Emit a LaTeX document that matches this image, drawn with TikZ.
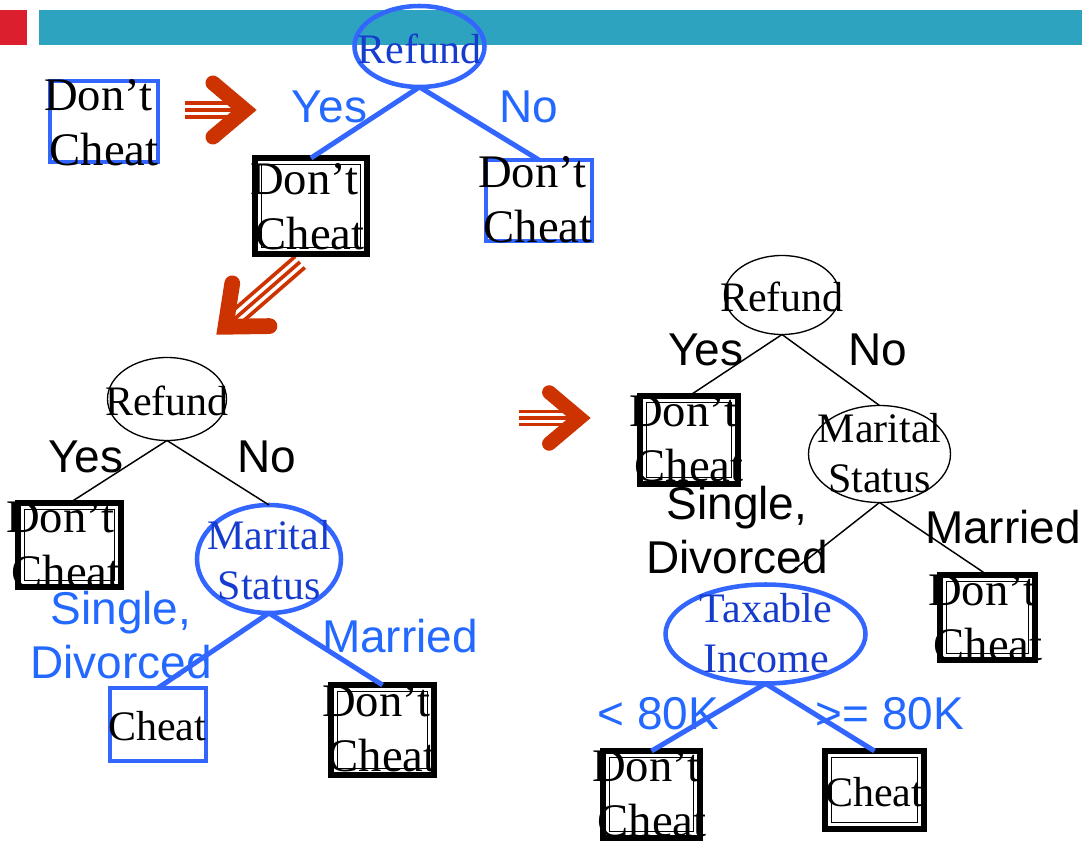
\documentclass[tikz,border=0pt]{standalone}
\usepackage{fontspec}
\setmainfont{Liberation Serif}
\newfontfamily\labelsans{Liberation Sans}
\usetikzlibrary{shapes.geometric,calc}

\definecolor{barteal}{RGB}{46,163,191}
\definecolor{barred}{RGB}{220,31,46}
\definecolor{splitblue}{RGB}{51,102,255}
\definecolor{labelblue}{RGB}{35,105,255}
\definecolor{attrblue}{RGB}{22,60,205}
\definecolor{arrowred}{RGB}{204,51,0}

\tikzset{
  every node/.style={inner sep=0pt, outer sep=0pt},
  attrplain/.style={draw, ellipse, line width=1pt},
  attrsel/.style={draw=splitblue, ellipse, line width=3.4pt},
  attrtext/.style={font=\fontsize{31.5}{38}\selectfont, align=center},
  bluebox/.style={draw=splitblue, rectangle, line width=3pt},
  dblbox/.style={draw, rectangle, line width=4.5pt},
  leaftext/.style={font=\fontsize{35}{41}\selectfont, align=center},
  onetext/.style={font=\fontsize{31.5}{38}\selectfont},
  branch/.style={font=\labelsans\fontsize{34.5}{40.5}\selectfont, align=center},
  bluesplit/.style={splitblue, line width=3.75pt},
  blacksplit/.style={black, line width=1.1pt}
}

% chevron arrow: tip, angle, scale, tail length
\newcommand\redchevron[4]{%
  \begin{scope}[shift={#1}, rotate=#2, scale=#3]
    \draw[arrowred, line width={11.25pt*#3}, line cap=round, line join=miter]
      (-44,-27) -- (-12,0) -- (-44,27);
    \foreach \d in {-7,0,7}
      \draw[arrowred, line width={2.6pt*#3}] (-#4,\d) -- (-22,\d);
  \end{scope}}

\begin{document}
\begin{tikzpicture}[x=0.75pt, y=-0.75pt]
\useasboundingbox (0,0) rectangle (1082,842);

% title bar
\fill[barred] (0,10) rectangle (27,45);
\fill[barteal] (39,10) rectangle (1082,45);

% step arrows
\redchevron{(257,110)}{0}{1}{72}
\redchevron{(216,335)}{221}{1.05}{106}
\redchevron{(591,418)}{0}{0.95}{76}

% ---- tree 0: single leaf
\node[bluebox, minimum width=81pt, minimum height=60.75pt] (l0) at (104,121.5) {};
\node[leaftext] (t0) at (104,122.5) {Don’t\kern0.25em\\Cheat};

% ---- tree 1
\node[attrsel, minimum width=97.5pt, minimum height=60.75pt] (e1) at (419.5,46.5) {};
\node[attrtext, text=attrblue] (e1t) at (419.5,48.7) {Refund};
\node[dblbox, minimum width=84pt, minimum height=72pt] (l1) at (311,206) {};
\node[leaftext] (t1) at (310,206.5) {Don’t\kern0.25em\\Cheat};
\node[bluebox, minimum width=79.5pt, minimum height=60.75pt] (l2) at (539,200.5) {};
\node[leaftext] (t2) at (538,200) {Don’t\kern0.25em\\Cheat};
\node[branch, text=labelblue] (yes1) at (329.5,107) {Yes};
\node[branch, text=labelblue] (no1) at (529,107) {No};

% ---- tree 2
\node[attrplain, minimum width=89.25pt, minimum height=62.25pt] (e2) at (167,399) {};
\node[attrtext] (e2t) at (167,401) {Refund};
\node[dblbox, minimum width=77.25pt, minimum height=63pt] (l3) at (69.5,545) {};
\node[leaftext] (t3) at (66,545) {Don’t\kern0.25em\\Cheat};
\node[attrsel, minimum width=108pt, minimum height=81pt] (e3) at (269,559) {};
\node[attrtext, text=attrblue] (e3t) at (269,560) {Marital\\Status};
\node[bluebox, minimum width=72pt, minimum height=54.75pt] (l4) at (158,724.5) {};
\node[onetext] (t4) at (157,726) {Cheat};
\node[dblbox, minimum width=77.25pt, minimum height=67.5pt] (l5) at (382.5,730) {};
\node[leaftext] (t5) at (382,728.5) {Don’t\kern0.25em\\Cheat};
\node[branch] (yes2) at (86,457) {Yes};
\node[branch] (no2) at (266.5,457) {No};
\node[branch, text=labelblue] (sd2) at (121,635) {Single,\\Divorced};
\node[branch, text=labelblue] (mar2) at (400,636) {Married};

% ---- tree 3
\node[attrplain, minimum width=86.25pt, minimum height=59.25pt] (e4) at (782,295) {};
\node[attrtext] (e4t) at (782,296.5) {Refund};
\node[dblbox, minimum width=73.5pt, minimum height=66pt] (l6) at (689,440) {};
\node[leaftext] (t6) at (689,438.5) {Don’t\kern0.25em\\Cheat};
\node[attrplain, minimum width=106.5pt, minimum height=72.75pt] (e5) at (879.5,454) {};
\node[attrtext] (e5t) at (879.5,453) {Marital\\Status};
\node[dblbox, minimum width=71.25pt, minimum height=63.75pt] (l7) at (987.5,617.5) {};
\node[leaftext] (t7) at (988,618) {Don’t\kern0.25em\\Cheat};
\node[attrsel, minimum width=150pt, minimum height=74.25pt] (e6) at (765.5,634) {};
\node[attrtext, text=attrblue] (e6t) at (766,633) {Taxable\\Income};
\node[dblbox, minimum width=72.75pt, minimum height=65.25pt] (l8) at (651.5,794.5) {};
\node[leaftext] (t8) at (652,793.5) {Don’t\kern0.25em\\Cheat};
\node[dblbox, minimum width=74.25pt, minimum height=58.5pt] (l9) at (874.5,790) {};
\node[onetext] (t9) at (874,792) {Cheat};
\node[branch] (yes3) at (706,350) {Yes};
\node[branch] (no3) at (877.5,350) {No};
\node[branch] (sd3) at (737,530) {Single,\\Divorced};
\node[branch] (mar3) at (1003,527) {Married};
\node[branch, text=labelblue] (lt80) at (658.5,713.5) {< 80K};
\node[branch, text=labelblue] (ge80) at (890,713.5) {>= 80K};

% inner frame of the double-bordered leaves
\foreach \b in {l1,l3,l5,l6,l7,l8,l9}
  \draw[line width=1.35pt] ($(\b.north west)+(6.5,6.5)$) rectangle ($(\b.south east)+(-6.5,-6.5)$);

% branches
\draw[bluesplit] (e1.south) -- (l1.north);
\draw[bluesplit] (e1.south) -- (l2.north);
\draw[blacksplit] (e2.south) -- (l3.north);
\draw[blacksplit] (e2.south) -- (e3.north);
\draw[bluesplit] (e3.south) -- (l4.north);
\draw[bluesplit] (e3.south) -- (l5.north);
\draw[blacksplit] (e4.south) -- (l6.north);
\draw[blacksplit] (e4.south) -- (e5.north);
\draw[blacksplit] (e5.south) -- ($(e6.north)+(25,-12)$);
\draw[blacksplit] (e5.south) -- (l7.north);
\draw[bluesplit] (e6.south) -- (l8.north);
\draw[bluesplit] (e6.south) -- (l9.north);
\end{tikzpicture}
\end{document}
